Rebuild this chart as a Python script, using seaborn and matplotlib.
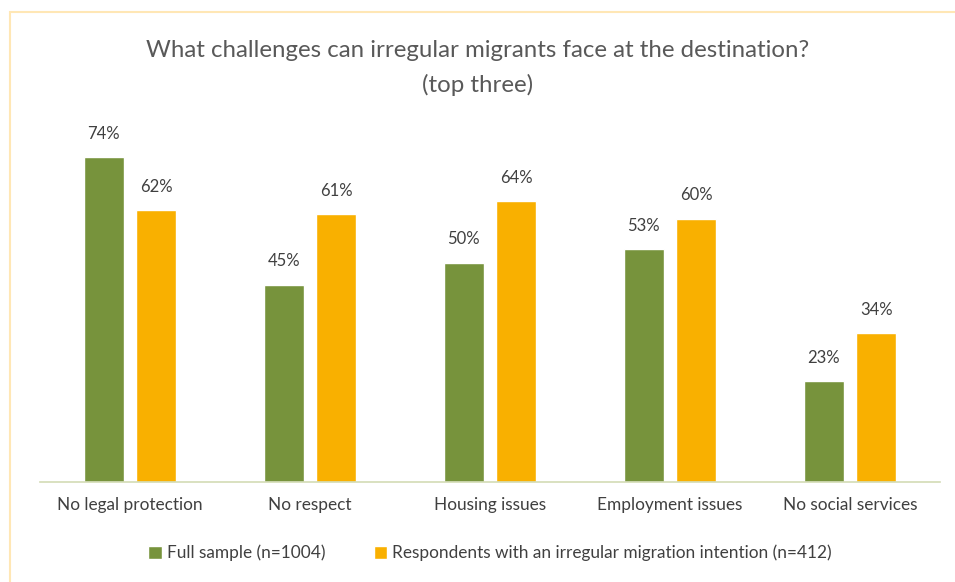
import matplotlib
matplotlib.use("Agg")
import matplotlib.pyplot as plt
import seaborn as sns
import pandas as pd
from matplotlib.patches import Rectangle

categories = ["No legal protection", "No respect", "Housing issues", "Employment issues", "No social services"]
full_sample = [74, 45, 50, 53, 23]
irregular = [62, 61, 64, 60, 34]
series_names = ["Full sample (n=1004)", "Respondents with an irregular migration intention (n=412)"]
title = "What challenges can irregular migrants face at the destination?\n(top three)"

df = pd.DataFrame({
    "category": categories * 2,
    "value": full_sample + irregular,
    "series": [series_names[0]] * len(categories) + [series_names[1]] * len(categories),
})

sns.set_theme(style="white")
plt.rcParams["font.family"] = ["Lato", "DejaVu Sans"]

W, H = 955, 582
fig = plt.figure(figsize=(W / 100, H / 100), dpi=100)
ax = fig.add_axes([40 / W, (H - 482) / H, 900 / W, (482 - 131) / H])

palette = ["#77933C", "#F9B000"]
sns.barplot(data=df, x="category", y="value", hue="series", palette=palette,
            width=0.58, gap=0.23, ax=ax, saturation=1, legend=True)

ax.set_ylim(0, 80)
ax.set_xlim(-0.5, len(categories) - 0.5)
for c in ax.containers:
    ax.bar_label(c, labels=[f"{v:.0f}%" for v in c.datavalues], padding=11,
                 fontsize=12, color="#404040")

ax.set_xlabel("")
ax.set_ylabel("")
ax.set_yticks([])
ax.tick_params(axis="x", labelsize=12.4, labelcolor="#404040", pad=11, length=0)
for s in ["top", "right", "left"]:
    ax.spines[s].set_visible(False)
ax.spines["bottom"].set_color("#D3DBB5")
ax.spines["bottom"].set_linewidth(1.2)

leg = ax.legend(loc="center", bbox_to_anchor=(0.5, (553 - 482) / -351),
                ncol=2, frameon=False, fontsize=12.4, handlelength=0.8, handleheight=0.8,
                handletextpad=0.3, columnspacing=2.8, borderaxespad=0)
for t in leg.get_texts():
    t.set_color("#404040")

fig.text(478 / W, 1 - 68 / H, title, ha="center", va="center", fontsize=17.3,
         color="#595959", linespacing=1.75)

fig.patches.append(Rectangle((10 / W, -0.01), 1.05, 1 - 12 / H + 0.01, transform=fig.transFigure,
                             fill=False, edgecolor="#FFE7B5", linewidth=1.5))

fig.savefig("out.png", dpi=100)
